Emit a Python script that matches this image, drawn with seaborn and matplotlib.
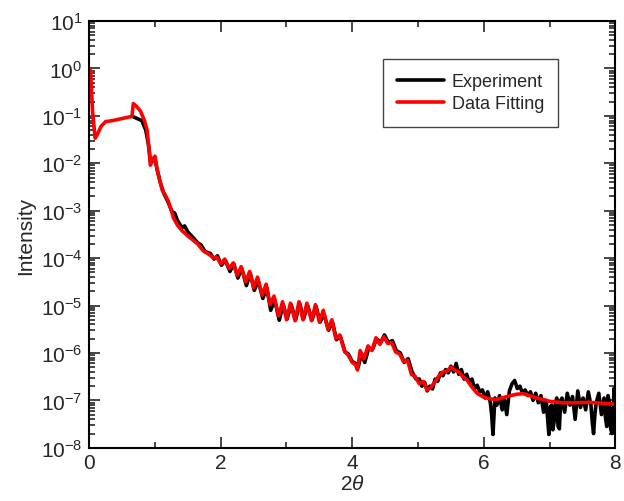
import numpy as np
import pandas as pd
import seaborn as sns
import matplotlib.pyplot as plt
from matplotlib.ticker import FixedLocator, LogFormatterSciNotation, MultipleLocator, NullFormatter

# Data (intensity given as log10 exponent)
fit_x = [0.00, 0.02, 0.05, 0.09, 0.12, 0.18, 0.25, 0.35, 0.45, 0.55, 0.65, 0.67,
         0.72, 0.78, 0.84, 0.88, 0.91, 0.93, 0.97, 1.00, 1.03, 1.07, 1.11, 1.16,
         1.20, 1.25, 1.28, 1.34, 1.41, 1.49, 1.57, 1.65, 1.73, 1.82, 1.90,
         1.94, 2.00, 2.06, 2.13, 2.19, 2.25, 2.31, 2.38, 2.44, 2.50, 2.56, 2.63,
         2.69, 2.75, 2.81, 2.88, 2.94, 3.00, 3.06, 3.13, 3.19, 3.25, 3.31, 3.38,
         3.44, 3.50, 3.56, 3.63, 3.69, 3.75, 3.81, 3.88, 3.94, 4.00, 4.05, 4.08,
         4.12, 4.18, 4.24, 4.30, 4.36, 4.42, 4.48, 4.54, 4.60, 4.66, 4.72, 4.78,
         4.84, 4.90, 4.96, 5.02, 5.08, 5.14, 5.20, 5.26, 5.32, 5.38, 5.44, 5.50,
         5.56, 5.62, 5.68, 5.74, 5.82, 5.90, 5.98, 6.10, 6.20, 6.30, 6.40, 6.50,
         6.60, 6.70, 6.80, 6.90, 7.00, 7.20, 7.40, 7.60, 7.80, 8.00]
fit_log = [0.00, -0.05, -0.90, -1.47, -1.40, -1.22, -1.12, -1.10, -1.07, -1.04, -1.01, -0.74,
           -0.80, -0.90, -1.10, -1.30, -1.70, -2.04, -1.90, -1.85, -2.10, -2.35, -2.56, -2.68,
           -2.79, -3.00, -3.15, -3.30, -3.42, -3.52, -3.61, -3.70, -3.84, -3.92, -4.00,
           -3.98, -4.12, -4.02, -4.22, -4.10, -4.36, -4.18, -4.50, -4.28, -4.62, -4.40, -4.78,
           -4.55, -4.98, -4.80, -5.22, -4.92, -5.30, -4.95, -5.32, -4.92, -5.30, -4.95, -5.32,
           -4.98, -5.35, -5.10, -5.50, -5.30, -5.70, -5.62, -5.95, -6.05, -6.20, -6.25, -6.36,
           -5.95, -6.12, -5.85, -5.95, -5.68, -5.82, -5.66, -5.80, -5.78, -5.98, -6.02, -6.18,
           -6.15, -6.45, -6.50, -6.65, -6.60, -6.78, -6.72, -6.60, -6.48, -6.40, -6.38, -6.30,
           -6.36, -6.40, -6.50, -6.56, -6.72, -6.85, -6.92, -6.97, -6.98, -6.94, -6.90, -6.87,
           -6.86, -6.90, -6.95, -6.98, -7.02, -7.05, -7.05, -7.04, -7.06, -7.08]

exp_x = [0.66, 0.72, 0.80, 0.86, 0.90, 0.93, 0.97, 1.00, 1.03, 1.08, 1.13, 1.20,
         1.26, 1.30, 1.34, 1.41, 1.45, 1.50, 1.57, 1.65, 1.70, 1.76, 1.84, 1.90,
         1.95, 2.01, 2.07, 2.14, 2.20, 2.26, 2.32, 2.39, 2.45, 2.51, 2.57, 2.64,
         2.70, 2.76, 2.82, 2.89, 2.95, 3.01, 3.07, 3.14, 3.20, 3.26, 3.32, 3.39,
         3.45, 3.51, 3.57, 3.64, 3.70, 3.76, 3.82, 3.89, 3.94, 4.00, 4.05, 4.09,
         4.14, 4.19, 4.25, 4.31, 4.37, 4.43, 4.49, 4.55, 4.61, 4.67, 4.73, 4.79,
         4.85, 4.91, 4.97, 5.02, 5.06, 5.10, 5.14, 5.18, 5.22, 5.26, 5.30, 5.34,
         5.38, 5.42, 5.46, 5.50, 5.54, 5.58, 5.62, 5.66, 5.70, 5.74, 5.78, 5.82,
         5.86, 5.90, 5.94, 5.98, 6.02, 6.06, 6.10, 6.12, 6.14, 6.17, 6.20, 6.24,
         6.28, 6.31, 6.35, 6.39, 6.43, 6.47, 6.51, 6.55, 6.59, 6.63, 6.67, 6.71,
         6.75, 6.79, 6.83, 6.87, 6.91, 6.95, 6.97, 6.99, 7.01, 7.03, 7.05, 7.07,
         7.09, 7.11, 7.13, 7.15, 7.17, 7.19, 7.23, 7.27, 7.31, 7.35, 7.39, 7.43,
         7.47, 7.51, 7.55, 7.59, 7.63, 7.65, 7.67, 7.69, 7.71, 7.75, 7.79, 7.83,
         7.85, 7.87, 7.89, 7.91, 7.93, 7.95, 7.97, 7.98, 8.00]
exp_log = [-1.01, -1.05, -1.10, -1.30, -1.60, -1.95, -1.95, -1.90, -2.12, -2.40, -2.62, -2.82,
           -3.02, -3.05, -3.20, -3.36, -3.32, -3.45, -3.55, -3.68, -3.72, -3.86, -3.90, -4.02,
           -3.95, -4.15, -4.05, -4.28, -4.12, -4.42, -4.22, -4.58, -4.32, -4.68, -4.48, -4.85,
           -4.62, -5.10, -4.88, -5.31, -4.98, -5.28, -4.98, -5.30, -4.95, -5.28, -5.00, -5.30,
           -5.02, -5.35, -5.18, -5.52, -5.35, -5.72, -5.65, -5.98, -6.02, -6.18, -6.22, -6.30,
           -6.02, -6.20, -5.90, -5.92, -5.70, -5.78, -5.62, -5.78, -5.74, -5.95, -6.00, -6.20,
           -6.12, -6.40, -6.55, -6.55, -6.70, -6.62, -6.80, -6.70, -6.76, -6.55, -6.60, -6.42,
           -6.48, -6.35, -6.42, -6.28, -6.40, -6.22, -6.45, -6.35, -6.55, -6.45, -6.62, -6.55,
           -6.75, -6.68, -6.82, -6.78, -6.95, -6.82, -7.05, -7.30, -7.72, -6.95, -7.10, -6.90,
           -7.20, -6.95, -7.30, -6.80, -6.65, -6.58, -6.75, -6.70, -6.85, -6.78, -6.90, -6.82,
           -7.00, -6.85, -7.05, -6.90, -7.25, -7.00, -7.35, -7.72, -7.15, -7.10, -7.62, -7.45,
           -7.05, -6.95, -7.55, -7.60, -7.00, -6.95, -7.25, -6.85, -7.10, -6.92, -7.40, -6.80,
           -7.15, -6.95, -7.20, -6.82, -7.10, -7.45, -7.70, -7.30, -7.05, -6.85, -7.30, -6.95,
           -7.35, -7.55, -6.90, -7.05, -7.60, -7.70, -7.20, -6.75, -7.10]

# decades shown on the y axis
y_decades = [-8, -7, -6, -5, -4, -3, -2, -1, 0, 1]


def main():
    sns.set_style("ticks")
    plt.rcParams['font.family'] = ['Liberation Sans', 'DejaVu Sans']
    plt.rcParams['mathtext.fontset'] = 'custom'
    plt.rcParams['mathtext.it'] = 'Liberation Sans:italic'
    plt.rcParams['mathtext.rm'] = 'Liberation Sans'

    exp = pd.DataFrame({'x': exp_x, 'y': np.power(10.0, exp_log)})
    fit = pd.DataFrame({'x': fit_x, 'y': np.power(10.0, fit_log)})

    fig = plt.figure(figsize=(6.24, 5.02), dpi=100)
    ax = fig.add_axes([0.143, 0.106, 0.843, 0.850])

    # Experiment underneath, fit drawn on top
    sns.lineplot(data=exp, x='x', y='y', ax=ax, color='black', linewidth=2.6,
                 label='Experiment', sort=False)
    sns.lineplot(data=fit, x='x', y='y', ax=ax, color='#ff0000', linewidth=2.6,
                 label='Data Fitting', sort=False)

    ax.set_yscale('log')
    ax.set_xlim(0, 8)
    ax.set_ylim(1e-8, 10)

    # only the visible decades get a label; minor ticks 2..9 inside each decade
    majors = [10.0 ** k for k in y_decades]
    minors = [m * 10.0 ** k for k in y_decades[:-1] for m in range(2, 10)]
    ax.yaxis.set_major_locator(FixedLocator(majors))
    ax.yaxis.set_major_formatter(LogFormatterSciNotation())
    ax.yaxis.set_minor_locator(FixedLocator(minors))
    ax.yaxis.set_minor_formatter(NullFormatter())
    ax.xaxis.set_major_locator(MultipleLocator(2))
    ax.xaxis.set_minor_locator(MultipleLocator(1))

    ax.tick_params(which='both', direction='in', top=True, right=True,
                   labelsize=15, width=1.2, pad=5)
    ax.tick_params(axis='x', which='both', pad=4)
    ax.tick_params(which='major', length=8)
    ax.tick_params(which='minor', length=4)
    for s in ax.spines.values():
        s.set_linewidth(1.5)
        s.set_color('black')

    ax.set_xlabel(r'2$\it{\theta}$', fontsize=15, labelpad=1)
    ax.set_ylabel('Intensity', fontsize=15, labelpad=4)

    leg = ax.legend(loc='upper right', bbox_to_anchor=(0.892, 0.912), fontsize=13,
                    frameon=True, fancybox=False, framealpha=1, edgecolor='#444444',
                    handlelength=2.6, handletextpad=0.4, borderpad=0.8,
                    labelspacing=0.3, borderaxespad=0)
    leg.get_frame().set_linewidth(1.0)
    for line in leg.get_lines():
        line.set_linewidth(2.6)

    fig.savefig('out.png', dpi=100)
    plt.close(fig)


if __name__ == "__main__":
    main()
